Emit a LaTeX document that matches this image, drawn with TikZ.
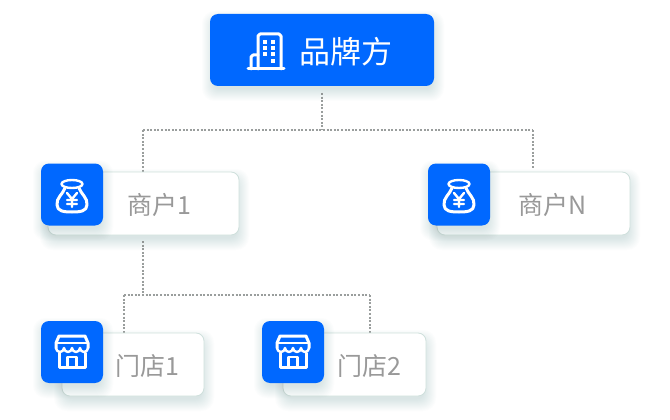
\documentclass[tikz,border=0pt]{standalone}
\usepackage{fontspec}
\setmainfont{Noto Sans CJK SC}
\definecolor{brandblue}{HTML}{0068FF}
\definecolor{softgrey}{HTML}{999999}
\definecolor{edgeteal}{HTML}{CFE0DC}
\definecolor{shadowteal}{HTML}{5F8A80}
\definecolor{dotgrey}{HTML}{9A9E9D}
\newcommand{\softglow}[4]{% centre x, centre y, width, height
  \foreach \spread in {9,8,...,-3}{
    \fill[shadowteal,opacity=.017,rounded corners=8pt+\spread pt*0.5]
      (#1-#3/2-\spread+1,#2-#4/2-\spread+6) rectangle (#1+#3/2+\spread+1,#2+#4/2+\spread+6);
  }}
\tikzset{
  topbox/.style={rectangle,rounded corners=8pt,fill=brandblue,minimum width=224pt,minimum height=72pt,inner sep=0pt},
  whitebox/.style={rectangle,rounded corners=8pt,fill=white,draw=edgeteal,line width=.8pt,minimum height=63pt,inner sep=0pt},
  iconbox/.style={rectangle,rounded corners=8pt,fill=brandblue,minimum width=62pt,minimum height=62pt,inner sep=0pt},
  grey label/.style={text=softgrey,font=\fontsize{25}{28}\selectfont,inner sep=0pt},
  link/.style={draw=dotgrey,line width=2pt,dash pattern=on 2pt off 1.6pt},
  glyph/.style={draw=white,line width=3pt,line cap=round,line join=round},
  thinglyph/.style={draw=white,line width=2.4pt,line cap=round,line join=round},
  bagicon/.pic={
    \draw[thinglyph] (0,-10) ellipse (10.5pt and 4pt);
    \draw[glyph] (-7,-6) .. controls (-9,0) and (-16,4) .. (-15,11) .. controls (-14.5,17) and (-9,18) .. (0,18) .. controls (9,18) and (14.5,17) .. (15,11) .. controls (16,4) and (9,0) .. (7,-6);
    \draw[thinglyph] (-5,-1) -- (0,5) -- (5,-1) (0,5) -- (0,13) (-5,6) -- (5,6) (-5,10) -- (5,10);
  },
  shopicon/.pic={
    \draw[glyph] (-16,-3) -- (-16,-8) -- (-13,-15) -- (13,-15) -- (16,-8) -- (16,-3);
    \draw[thinglyph] (-16,-8) -- (16,-8);
    \draw[thinglyph] (-16,-3) arc[start angle=180,end angle=360,radius=4pt] arc[start angle=180,end angle=360,radius=4pt] arc[start angle=180,end angle=360,radius=4pt] arc[start angle=180,end angle=360,radius=4pt];
    \draw[glyph] (-13,2) -- (-13,16) -- (13,16) -- (13,2);
    \draw[thinglyph] (-4.5,16) -- (-4.5,6) -- (4.5,6) -- (4.5,16);
  },
  towericon/.pic={
    \draw[glyph] (-18,17) -- (18,17);
    \draw[glyph] (-8,17) -- (-8,-16) -- (-6,-18) -- (13,-18) -- (15,-16) -- (15,17);
    \draw[glyph] (-8,3) -- (-13,3) -- (-15,5) -- (-15,17);
    \foreach \u/\v in {-1/-10,7/-10,-1/-4,7/-4,-1/2,7/2,7/9}
      \fill[white] (\u-2,\v-2) rectangle (\u+2,\v+2);
  }
}
\begin{document}
\begin{tikzpicture}[x=1pt,y=-1pt]
\useasboundingbox (0,0) rectangle (670,420);
\fill[white] (0,0) rectangle (670,420);
% anchors of the dotted connectors
\coordinate (topdrop) at (322,93);
\coordinate (topjoin) at (322,130);
\coordinate (leftbend) at (143,130);
\coordinate (rightbend) at (533,130);
\coordinate (m1drop) at (143,241);
\coordinate (m1join) at (143,295);
\coordinate (s1bend) at (124,295);
\coordinate (s2bend) at (370,295);
\coordinate (m1top) at (143,172);
\coordinate (mntop) at (533,168);
\coordinate (s1top) at (124,333);
\coordinate (s2top) at (370,333);
\draw[link] (topdrop) -- (topjoin);
\draw[link] (leftbend) -- (rightbend);
\draw[link] (leftbend) -- (m1top);
\draw[link] (rightbend) -- (mntop);
\draw[link] (m1drop) -- (m1join);
\draw[link] (s1bend) -- (s2bend);
\draw[link] (s1bend) -- (s1top);
\draw[link] (s2bend) -- (s2top);
% top node
\softglow{322}{50}{224}{72}
\node[topbox] (brand) at (322,50) {};
\pic at (266,52) {towericon};
\node[text=white,font=\fontsize{31}{34}\selectfont,inner sep=0pt] (brandtext) at (345.5,52) {品牌方};
% merchants
\softglow{143.5}{203.5}{191}{63}
\node[whitebox,minimum width=191pt] (m1) at (143.5,203.5) {};
\softglow{72}{194.5}{62}{62}
\node[iconbox] (m1icon) at (72,194.5) {};
\pic at (72,194) {bagicon};
\node[grey label] (m1text) at (159,205) {商户1};
\softglow{533.5}{203.5}{193}{63}
\node[whitebox,minimum width=193pt] (mn) at (533.5,203.5) {};
\softglow{459}{194.5}{62}{62}
\node[iconbox] (mnicon) at (459,194.5) {};
\pic at (459,194) {bagicon};
\node[grey label] (mntext) at (553,205) {商户N};
% stores
\softglow{133}{364.5}{142}{63}
\node[whitebox,minimum width=142pt] (s1) at (133,364.5) {};
\softglow{72}{352}{62}{62}
\node[iconbox] (s1icon) at (72,352) {};
\pic at (72,351) {shopicon};
\node[grey label] (s1text) at (147.5,366) {门店1};
\softglow{354.5}{364.5}{143}{63}
\node[whitebox,minimum width=143pt] (s2) at (354.5,364.5) {};
\softglow{293}{352}{62}{62}
\node[iconbox] (s2icon) at (293,352) {};
\pic at (293,351) {shopicon};
\node[grey label] (s2text) at (369,366) {门店2};
\end{tikzpicture}
\end{document}
